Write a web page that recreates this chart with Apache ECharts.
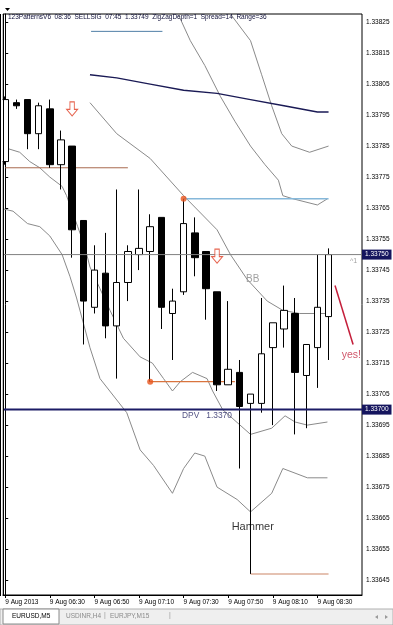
<!DOCTYPE html>
<html><head><meta charset="utf-8">
<script src="https://cdn.jsdelivr.net/npm/echarts@6/dist/echarts.min.js"></script>
<style>html,body{margin:0;padding:0;background:#fff;overflow:hidden}#c{width:393px;height:625px}</style>
</head><body><div id="c"></div>
<script>
// ---- data (EURUSD M5, 9 Aug 2013) ----
const candleTimes = ['06:10','06:15','06:20','06:25','06:30','06:35','06:40','06:45','06:50','06:55',
  '07:00','07:05','07:10','07:15','07:20','07:25','07:30','07:35','07:40','07:45',
  '07:50','07:55','08:00','08:05','08:10','08:15','08:20','08:25','08:30','08:35'];
// [open, close, low, high]
const ohlc = [
  [1.33780,1.33800,1.33779,1.33801],[1.33799,1.33798,1.33797,1.33800],[1.33800,1.33789,1.33784,1.33800],
  [1.33789,1.33798,1.33784,1.33799],[1.33797,1.33779,1.33778,1.33800],[1.33779,1.33787,1.33771,1.33790],
  [1.33785,1.33758,1.33749,1.33785],[1.33761,1.33735,1.33721,1.33761],[1.33733,1.33745,1.33731,1.33753],
  [1.33744,1.33727,1.33723,1.33757],[1.33727,1.33741,1.33710,1.33771],[1.33741,1.33751,1.33735,1.33753],
  [1.33750,1.33752,1.33745,1.33771],[1.33751,1.33759,1.33709,1.33763],[1.33762,1.33733,1.33726,1.33762],
  [1.33731,1.33735,1.33716,1.33739],[1.33738,1.33760,1.33737,1.33768],[1.33757,1.33749,1.33743,1.33762],
  [1.33751,1.33739,1.33729,1.33751],[1.33738,1.33708,1.33706,1.33738],[1.33708,1.33713,1.33708,1.33735],
  [1.33712,1.33701,1.33681,1.33716],[1.33702,1.33705,1.33647,1.33705],[1.33702,1.33718,1.33699,1.33736],
  [1.33720,1.33728,1.33695,1.33728],[1.33726,1.33732,1.33720,1.33740],[1.33731,1.33712,1.33692,1.33736],
  [1.33711,1.33721,1.33694,1.33721],[1.33720,1.33733,1.33707,1.33750],[1.33730,1.33750,1.33716,1.33752]
];
const timeLabelIndex = [0,4,8,12,16,20,24,28];
const timeLabels = ['9 Aug 2013','9 Aug 06:30','9 Aug 06:50','9 Aug 07:10','9 Aug 07:30','9 Aug 07:50','9 Aug 08:10','9 Aug 08:30'];
const priceTicks = [1.33645,1.33655,1.33665,1.33675,1.33685,1.33695,1.33705,1.33715,1.33725,1.33735,
  1.33745,1.33755,1.33765,1.33775,1.33785,1.33795,1.33805,1.33815,1.33825];
const bidPrice = 1.33750;
const dpvPrice = 1.33700;
// indicator lines [candle index, price]
const bbMiddle = [[7.6,1.33799],[10,1.33789],[13,1.33781],[16,1.33769],[19,1.33758],[20.2,1.33750],
  [21.7,1.33742],[23.5,1.33735],[24.9,1.33732],[26.4,1.33731],[28,1.33731],[28.9,1.33731]];
const bandLowerInner = [[-0.5,1.33785],[1.3,1.33783],[2.2,1.33780],[3.1,1.33778],[4,1.33775],[5.1,1.33772],
  [5.5,1.33769],[6,1.33764],[6.5,1.33759],[7.1,1.33753],[7.6,1.33746],[8.5,1.33739],[9.4,1.33732],
  [10.6,1.33723],[12.1,1.33717],[13.2,1.33715],[14.2,1.33710],[15,1.33706],[15.7,1.33709],[16.8,1.33712],
  [18.1,1.33710],[18.6,1.33706],[19.5,1.33700],[22,1.33692],[23.9,1.33694],[25.1,1.33698],[26,1.33696],
  [27.1,1.33695],[28.9,1.33696]];
const bandLowerOuter = [[-0.5,1.33765],[0.7,1.33764],[2,1.33760],[3.1,1.33759],[4,1.33756],[5.1,1.33750],
  [5.8,1.33743],[6.4,1.33736],[7,1.33728],[7.6,1.33720],[8.5,1.33710],[10.9,1.33699],[12.1,1.33687],
  [13.3,1.33682],[15,1.33673],[16,1.33681],[17,1.33686],[17.9,1.33685],[19,1.33675],[20.8,1.33671],
  [22,1.33667],[23.9,1.33673],[24.9,1.33681],[27.1,1.33678],[28.9,1.33678]];
const bandUpperInner = [[15.2,1.33830],[16.6,1.33819],[17.9,1.33811],[19.3,1.33801],[20.6,1.33793],
  [22,1.33785],[23.3,1.33779],[24.5,1.33774],[24.9,1.33769],[25.8,1.33768],[28,1.33766],[28.9,1.33768]];
const bandUpperOuter = [[19.7,1.33830],[22,1.33819],[23,1.33808],[23.9,1.33798],[24.8,1.33789],
  [25.7,1.33785],[27.3,1.33783],[29,1.33785]];
const slowMA = [[7.6,1.33808],[10,1.33807],[13,1.33805],[16,1.33803],[19,1.33802],[22,1.33800],
  [25,1.33798],[28,1.33796],[29,1.33796]];
const topBlueLevel = [[7.7,1.33822],[14.1,1.33822]];
const zigzagHighLevel = [[16,1.33768],[29,1.33768]];
const zigzagLowLevel = [[13,1.33709],[20.6,1.33709]];
const brownLevel = [[0,1.33778],[11,1.33778]];
const hammerLowLevel = [[22,1.33647],[29,1.33647]];
const zigzagPoints = [[16,1.33768],[13,1.33709]];
const sellArrows = [[6,1.33797],[19,1.337495]];
const yesArrowFrom = [31.2,1.33721];
const yesArrowTo = [29.58,1.33740];

const X_MIN = -0.2, X_MAX = 32;
const FONT = 'Liberation Sans';
const chart = echarts.init(document.getElementById('c'), null, {renderer:'canvas'});
const lineS = (name, data, color, width) => ({
  name, type:'line', data, symbol:'none', silent:true, animation:false,
  lineStyle:{color, width}, z:2
});
const note = (x, y, text, style) => ({
  value:[x,y],
  label:Object.assign({show:true, formatter:text, position:'inside', fontFamily:FONT}, style)
});
const priceLine = (name, price, color, width) => Object.assign(
  lineS(name, [[X_MIN, price],[X_MAX, price]], color, width),
  {z:4, endLabel:{show:true, distance:0, formatter:price.toFixed(5), color:'#fff',
    backgroundColor:'#15155e', padding:[2,3,1,3], fontSize:6.5, fontFamily:FONT}}
);

chart.setOption({
  animation:false,
  backgroundColor:'#fff',
  textStyle:{fontFamily:FONT},
  grid:{left:3, top:14, right:31, bottom:30, show:true, borderColor:'#000', borderWidth:1, backgroundColor:'#fff'},
  xAxis:{
    type:'value', min:X_MIN, max:X_MAX,
    axisLine:{show:true, lineStyle:{color:'#000'}},
    axisTick:{show:true, customValues:timeLabelIndex, length:3, lineStyle:{color:'#000'}},
    axisLabel:{customValues:timeLabelIndex, align:'left', margin:4, fontSize:6.5, color:'#000',
      formatter:v=>{const k=timeLabelIndex.indexOf(v);return k>=0?timeLabels[k]:'';}},
    splitLine:{show:false}
  },
  yAxis:{
    type:'value', position:'right', min:1.336402, max:1.338276,
    axisLine:{show:true, lineStyle:{color:'#000'}},
    axisTick:{show:true, customValues:priceTicks, length:3, lineStyle:{color:'#000'}},
    axisLabel:{customValues:priceTicks, margin:4, fontSize:6.5, color:'#000', formatter:v=>v.toFixed(5)},
    splitLine:{show:false}
  },
  series:[
    lineS('bbMid', bbMiddle, '#8a8a8a', 1),
    lineS('bandLI', bandLowerInner, '#8a8a8a', 1),
    lineS('bandLO', bandLowerOuter, '#8a8a8a', 1),
    lineS('bandUI', bandUpperInner, '#8a8a8a', 1),
    lineS('bandUO', bandUpperOuter, '#8a8a8a', 1),
    lineS('slowMA', slowMA, '#1a1a55', 1.4),
    priceLine('bid', bidPrice, '#808080', 1),
    priceLine('dpv', dpvPrice, '#1c1c66', 2),
    lineS('topBlue', topBlueLevel, '#4f7fa6', 1),
    lineS('zzHigh', zigzagHighLevel, '#86b8da', 1.5),
    lineS('zzLow', zigzagLowLevel, '#d9743e', 1.2),
    lineS('brown', brownLevel, '#a86a4e', 1),
    lineS('hammerLow', hammerLowLevel, '#dcae98', 1.5),
    {
      name:'price', type:'candlestick', z:3,
      data: ohlc.map((d,i)=>[i, d[0], d[1], d[2], d[3]]),
      encode:{x:0, y:[1,2,3,4]},
      barWidth:7,
      itemStyle:{color:'#fff', color0:'#000', borderColor:'#000', borderColor0:'#000', borderWidth:1}
    },
    {
      name:'zigzag', type:'scatter', z:5, symbol:'circle', symbolSize:6,
      data:zigzagPoints, itemStyle:{color:'#e8541c'}
    },
    {
      name:'sell', type:'scatter', z:5,
      symbol:'path://M3,0L7,0L7,7L10,7L5,13L0,7L3,7Z', symbolSize:[11,14],
      data:sellArrows, itemStyle:{color:'#fff', borderColor:'#e03c22', borderWidth:1}
    },
    {
      name:'notes', type:'scatter', z:6, symbolSize:0, silent:true,
      data:[
        note(22.2, 1.33742, 'BB', {fontSize:10, color:'#8a8a8a'}),
        note(15.86, 1.33698, 'DPV   1.3370', {fontSize:8.4, color:'#1e1e5e', position:'right', distance:0}),
        note(22.2, 1.33662, 'Hammer', {fontSize:11, color:'#000'}),
        note(31.05, 1.337176, 'yes!', {fontSize:10.5, color:'#c42a44'}),
        note(31.25, 1.33748, '^1', {fontSize:7, color:'#888'})
      ],
      markLine:{
        silent:true, animation:false, symbol:['none','arrow'], symbolSize:[0,6],
        lineStyle:{color:'#c41e3a', width:1.5, type:'solid'},
        label:{show:false},
        data:[[{coord:yesArrowFrom},{coord:yesArrowTo}]]
      }
    }
  ],
  graphic:[
    {type:'rect', shape:{x:0,y:14.5,width:2.5,height:580}, style:{fill:'#fff'}, silent:true, z:20},
    {type:'line', shape:{x1:3.5,y1:14,x2:3.5,y2:596}, style:{stroke:'#000', lineWidth:1}, silent:true, z:21},
    {type:'line', shape:{x1:0.5,y1:14,x2:0.5,y2:596}, style:{stroke:'#000', lineWidth:1}, silent:true, z:21},
    {type:'polygon', shape:{points:[[5,8],[10,8],[7.5,11]]}, style:{fill:'#000'}, silent:true},
    {type:'text', left:8, top:13.5, style:{text:'123PatternsV6  08:36  SELLSIG  07:45  1.33749  ZigZagDepth=1  Spread=14  Range=36',
      font:'6.5px "Liberation Sans"', fill:'#10103a'}, silent:true, z:10},
    {type:'rect', shape:{x:0,y:609,width:393,height:16}, style:{fill:'#efefef', stroke:'#b0b0b0', lineWidth:1}, silent:true},
    {type:'rect', shape:{x:3,y:609,width:56,height:15}, style:{fill:'#fff', stroke:'#8a8a8a', lineWidth:1}, silent:true},
    {type:'text', left:12, top:613, style:{text:'EURUSD,M5', font:'6.5px "Liberation Sans"', fill:'#000'}, silent:true},
    {type:'text', left:66, top:613, style:{text:'USDINR,H4', font:'6.5px "Liberation Sans"', fill:'#8a8a8a'}, silent:true},
    {type:'text', left:104, top:612, style:{text:'|', font:'7px "Liberation Sans"', fill:'#9a9a9a'}, silent:true},
    {type:'text', left:110, top:613, style:{text:'EURJPY,M15', font:'6.5px "Liberation Sans"', fill:'#8a8a8a'}, silent:true},
    {type:'text', left:169, top:612, style:{text:'|', font:'7px "Liberation Sans"', fill:'#9a9a9a'}, silent:true},
    {type:'polygon', shape:{points:[[375,617],[378,615],[378,619]]}, style:{fill:'#9a9a9a'}, silent:true},
    {type:'polygon', shape:{points:[[388,617],[385,615],[385,619]]}, style:{fill:'#9a9a9a'}, silent:true}
  ]
});
</script>
</body></html>
